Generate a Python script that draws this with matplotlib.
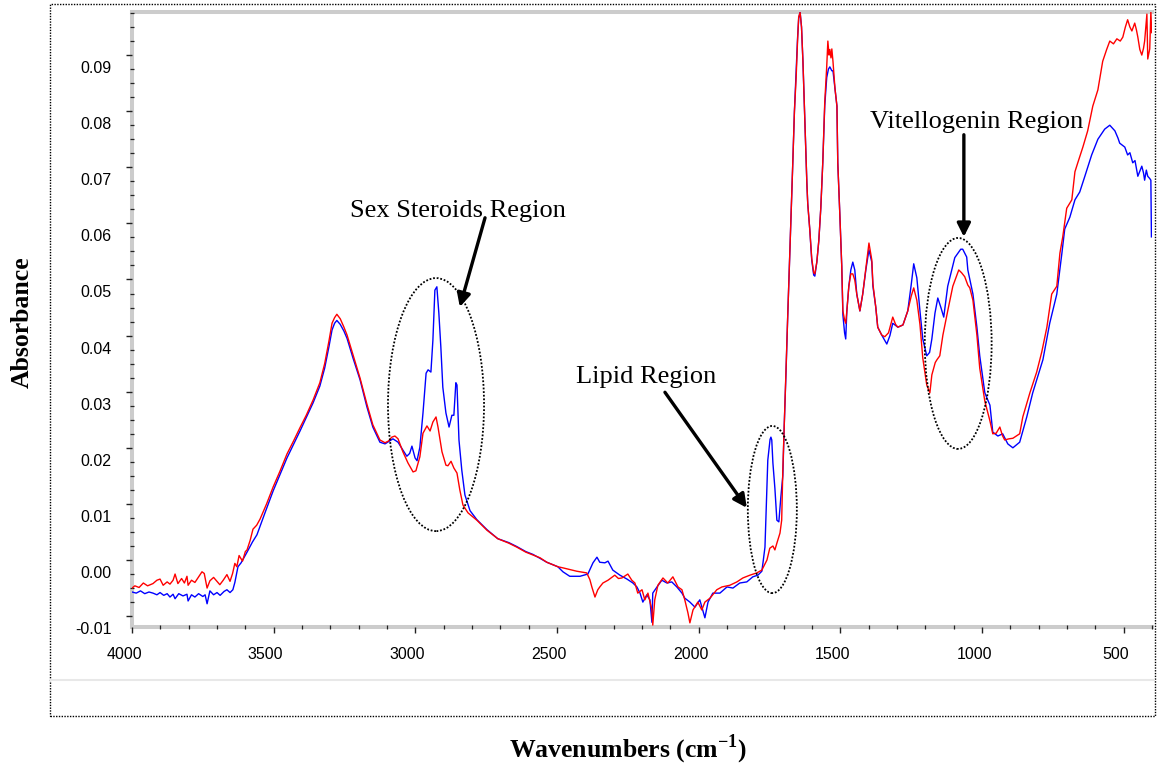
import matplotlib
matplotlib.use("Agg")
import matplotlib.pyplot as plt
import matplotlib.transforms as mtransforms
from matplotlib.patches import Ellipse, Rectangle
from matplotlib.lines import Line2D
from matplotlib.ticker import MultipleLocator

plt.rcParams["mathtext.fontset"] = "custom"
plt.rcParams["mathtext.rm"] = "Liberation Serif"
plt.rcParams["mathtext.bf"] = "Liberation Serif:bold"

# ---------------- data ----------------
wn_red = [4000, 3990, 3975, 3960, 3945, 3926, 3912, 3901, 3890, 3876, 3866, 3855, 3848, 3838,
          3825, 3815, 3806, 3802, 3790, 3778, 3765, 3753, 3745, 3735, 3725, 3712, 3700, 3690,
          3678, 3665, 3654, 3645, 3637, 3630, 3622, 3610, 3600, 3594, 3583, 3573, 3560, 3548,
          3525, 3502, 3478, 3453, 3430, 3407, 3385, 3361, 3337, 3320, 3305, 3294, 3285, 3277,
          3265, 3252, 3241, 3220, 3195, 3171, 3150, 3125, 3107, 3095, 3083, 3072, 3061, 3044,
          3026, 3008, 2998, 2984, 2973, 2959, 2948, 2938, 2927, 2920, 2906, 2892, 2885, 2874,
          2864, 2853, 2843, 2832, 2814, 2783, 2747, 2709, 2670, 2642, 2610, 2585, 2560, 2536,
          2497, 2479, 2430, 2395, 2384, 2377, 2366, 2356, 2349, 2338, 2320, 2296, 2283, 2271,
          2250, 2236, 2225, 2215, 2200, 2190, 2179, 2165, 2162, 2155, 2144, 2126, 2109, 2091,
          2073, 2059, 2049, 2038, 2031, 2020, 2003, 1989, 1978, 1960, 1936, 1918, 1890, 1865,
          1844, 1819, 1795, 1777, 1759, 1749, 1738, 1731, 1724, 1713, 1707, 1703, 1698, 1692,
          1686, 1680, 1674, 1668, 1662, 1656, 1651, 1647, 1642, 1637, 1632, 1625, 1618, 1615,
          1608, 1601, 1594, 1590, 1583, 1576, 1569, 1562, 1555, 1548, 1544, 1540, 1537, 1533,
          1530, 1526, 1519, 1512, 1509, 1502, 1495, 1491, 1485, 1481, 1477, 1470, 1463, 1456,
          1449, 1442, 1431, 1421, 1410, 1399, 1389, 1385, 1375, 1368, 1354, 1343, 1330, 1315,
          1305, 1297, 1279, 1262, 1250, 1241, 1230, 1219, 1209, 1195, 1184, 1177, 1165, 1159,
          1149, 1138, 1121, 1103, 1082, 1072, 1061, 1050, 1043, 1032, 1018, 1008, 990, 972,
          962, 950, 937, 928, 920, 905, 891, 867, 856, 831, 807, 789, 771, 754, 736, 725, 715,
          701, 683, 672, 662, 644, 627, 609, 591, 574, 560, 549, 536, 524, 512, 503, 494, 486,
          478, 471, 461, 455, 450, 443, 436, 430, 426, 418, 415, 408, 404, 401]
abs_red = [-0.0050, -0.0046, -0.0049, -0.0041, -0.0046, -0.0042, -0.0036, -0.0034, -0.0045,
           -0.0039, -0.0043, -0.0036, -0.0025, -0.0042, -0.0033, -0.0041, -0.0029, -0.0045,
           -0.0036, -0.0040, -0.0030, -0.0021, -0.0024, -0.0050, -0.0037, -0.0031, -0.0038,
           -0.0044, -0.0036, -0.0026, -0.0038, -0.0024, -0.0006, -0.0012, 0.0008, -0.0002,
           0.0015, 0.0018, 0.0035, 0.0055, 0.0062, 0.0073, 0.0100, 0.0130, 0.0158, 0.0189,
           0.0212, 0.0236, 0.0258, 0.0285, 0.0316, 0.0350, 0.0390, 0.0422, 0.0432, 0.0438,
           0.0430, 0.0415, 0.0401, 0.0366, 0.0324, 0.0278, 0.0241, 0.0214, 0.0209, 0.0212,
           0.0219, 0.0221, 0.0216, 0.0193, 0.0173, 0.0157, 0.0159, 0.0184, 0.0226, 0.0239,
           0.0230, 0.0246, 0.0255, 0.0237, 0.0193, 0.0169, 0.0168, 0.0176, 0.0164, 0.0155,
           0.0125, 0.0098, 0.0084, 0.0071, 0.0053, 0.0038, 0.0030, 0.0023, 0.0014, 0.0009,
           0.0004, -0.0004, -0.0012, -0.0014, -0.0020, -0.0023, -0.0035, -0.0048, -0.0066,
           -0.0053, -0.0048, -0.0041, -0.0036, -0.0027, -0.0033, -0.0032, -0.0025, -0.0036,
           -0.0041, -0.0059, -0.0053, -0.0071, -0.0059, -0.0089, -0.0116, -0.0071, -0.0045,
           -0.0032, -0.0041, -0.0030, -0.0048, -0.0053, -0.0071, -0.0094, -0.0112, -0.0089,
           -0.0075, -0.0089, -0.0075, -0.0068, -0.0053, -0.0048, -0.0045, -0.0039, -0.0032,
           -0.0027, -0.0023, -0.0018, 0.0000, 0.0021, 0.0025, 0.0018, 0.0030, 0.0048, 0.0071,
           0.0160, 0.0240, 0.0330, 0.0430, 0.0520, 0.0610, 0.0705, 0.0800, 0.0860, 0.0925,
           0.0968, 0.0976, 0.0950, 0.0889, 0.0779, 0.0670, 0.0635, 0.0590, 0.0538, 0.0512,
           0.0510, 0.0531, 0.0569, 0.0627, 0.0708, 0.0816, 0.0880, 0.0925, 0.0900, 0.0910,
           0.0895, 0.0911, 0.0889, 0.0841, 0.0809, 0.0708, 0.0619, 0.0524, 0.0444, 0.0428,
           0.0422, 0.0444, 0.0488, 0.0510, 0.0510, 0.0499, 0.0474, 0.0444, 0.0474, 0.0520,
           0.0565, 0.0535, 0.0492, 0.0451, 0.0415, 0.0401, 0.0398, 0.0405, 0.0433, 0.0420,
           0.0415, 0.0419, 0.0444, 0.0470, 0.0485, 0.0463, 0.0420, 0.0360, 0.0312, 0.0298,
           0.0330, 0.0352, 0.0357, 0.0364, 0.0401, 0.0444, 0.0488, 0.0517, 0.0512, 0.0505,
           0.0490, 0.0485, 0.0463, 0.0401, 0.0342, 0.0283, 0.0248, 0.0225, 0.0226, 0.0237,
           0.0222, 0.0214, 0.0216, 0.0217, 0.0225, 0.0255, 0.0298, 0.0335, 0.0371, 0.0415,
           0.0474, 0.0488, 0.0547, 0.0576, 0.0627, 0.0642, 0.0692, 0.0708, 0.0736, 0.0765,
           0.0809, 0.0838, 0.0889, 0.0910, 0.0925, 0.0920, 0.0929, 0.0925, 0.0932, 0.0950,
           0.0963, 0.0950, 0.0943, 0.0957, 0.0945, 0.0932, 0.0910, 0.0900, 0.0912, 0.0925,
           0.0973, 0.0893, 0.0911, 0.0977, 0.0940]

wn_blue = [4000, 3985, 3970, 3955, 3940, 3926, 3912, 3901, 3888, 3876, 3866, 3855, 3848, 3835,
           3820, 3806, 3802, 3790, 3778, 3765, 3750, 3742, 3735, 3725, 3712, 3700, 3689, 3675,
           3665, 3654, 3644, 3637, 3626, 3615, 3594, 3575, 3559, 3530, 3502, 3478, 3453, 3430,
           3407, 3385, 3361, 3337, 3320, 3305, 3294, 3285, 3277, 3265, 3252, 3241, 3220, 3195,
           3171, 3150, 3125, 3107, 3079, 3061, 3044, 3030, 3020, 3012, 3001, 2994, 2984, 2973,
           2962, 2955, 2945, 2938, 2931, 2924, 2917, 2910, 2903, 2892, 2881, 2871, 2864, 2857,
           2853, 2846, 2836, 2825, 2807, 2783, 2747, 2709, 2670, 2642, 2610, 2585, 2560, 2536,
           2497, 2479, 2455, 2419, 2391, 2373, 2359, 2349, 2331, 2320, 2303, 2278, 2253, 2232,
           2218, 2207, 2197, 2183, 2172, 2165, 2162, 2147, 2130, 2112, 2095, 2077, 2059, 2049,
           2031, 2013, 1996, 1978, 1967, 1950, 1925, 1900, 1879, 1855, 1830, 1809, 1791, 1777,
           1773, 1766, 1759, 1756, 1748, 1745, 1742, 1738, 1731, 1724, 1717, 1710, 1703, 1698,
           1692, 1686, 1680, 1674, 1668, 1662, 1656, 1651, 1647, 1642, 1637, 1632, 1625, 1618,
           1615, 1608, 1601, 1594, 1590, 1583, 1576, 1569, 1562, 1555, 1548, 1542, 1537, 1530,
           1526, 1519, 1512, 1509, 1502, 1495, 1491, 1485, 1481, 1477, 1470, 1463, 1456, 1449,
           1442, 1431, 1421, 1410, 1399, 1389, 1385, 1375, 1368, 1354, 1336, 1325, 1315, 1297,
           1279, 1262, 1250, 1241, 1230, 1219, 1209, 1195, 1185, 1177, 1166, 1156, 1145, 1135,
           1121, 1096, 1075, 1068, 1054, 1050, 1032, 1018, 1008, 990, 972, 962, 944, 927, 909,
           891, 867, 842, 821, 785, 761, 736, 718, 708, 690, 672, 655, 637, 613, 591, 567, 549,
           531, 520, 514, 496, 486, 478, 468, 460, 450, 436, 430, 426, 420, 415, 408, 404, 402]
abs_blue = [-0.0057, -0.0059, -0.0055, -0.0060, -0.0057, -0.0059, -0.0062, -0.0058, -0.0063,
            -0.0060, -0.0066, -0.0061, -0.0069, -0.0060, -0.0064, -0.0061, -0.0073, -0.0062,
            -0.0066, -0.0060, -0.0065, -0.0062, -0.0078, -0.0055, -0.0062, -0.0058, -0.0063,
            -0.0056, -0.0053, -0.0058, -0.0053, -0.0040, -0.0012, -0.0005, 0.0014, 0.0032,
            0.0045, 0.0085, 0.0123, 0.0152, 0.0182, 0.0206, 0.0230, 0.0254, 0.0280, 0.0310,
            0.0342, 0.0380, 0.0410, 0.0422, 0.0427, 0.0420, 0.0408, 0.0395, 0.0360, 0.0321,
            0.0273, 0.0237, 0.0210, 0.0207, 0.0216, 0.0210, 0.0196, 0.0185, 0.0190, 0.0203,
            0.0182, 0.0177, 0.0201, 0.0262, 0.0333, 0.0339, 0.0335, 0.0392, 0.0481, 0.0487,
            0.0440, 0.0380, 0.0308, 0.0262, 0.0237, 0.0258, 0.0258, 0.0316, 0.0312, 0.0214,
            0.0160, 0.0116, 0.0088, 0.0072, 0.0054, 0.0038, 0.0031, 0.0024, 0.0015, 0.0010,
            0.0003, -0.0004, -0.0012, -0.0021, -0.0029, -0.0029, -0.0025, -0.0005, 0.0005,
            -0.0004, -0.0005, -0.0002, -0.0018, -0.0027, -0.0034, -0.0041, -0.0048, -0.0059,
            -0.0075, -0.0062, -0.0071, -0.0111, -0.0059, -0.0048, -0.0036, -0.0041, -0.0039,
            -0.0048, -0.0059, -0.0068, -0.0075, -0.0084, -0.0071, -0.0103, -0.0075, -0.0059,
            -0.0059, -0.0048, -0.0050, -0.0041, -0.0039, -0.0030, -0.0027, -0.0020, -0.0005,
            0.0023, 0.0130, 0.0178, 0.0215, 0.0219, 0.0214, 0.0173, 0.0128, 0.0071, 0.0068,
            0.0112, 0.0150, 0.0240, 0.0330, 0.0430, 0.0520, 0.0610, 0.0705, 0.0800, 0.0870,
            0.0930, 0.0965, 0.0977, 0.0950, 0.0889, 0.0779, 0.0670, 0.0635, 0.0590, 0.0535,
            0.0508, 0.0506, 0.0531, 0.0569, 0.0627, 0.0708, 0.0810, 0.0860, 0.0875, 0.0879,
            0.0872, 0.0872, 0.0841, 0.0809, 0.0708, 0.0619, 0.0524, 0.0437, 0.0405, 0.0394,
            0.0444, 0.0488, 0.0517, 0.0531, 0.0517, 0.0474, 0.0444, 0.0474, 0.0517, 0.0553,
            0.0531, 0.0488, 0.0451, 0.0415, 0.0401, 0.0385, 0.0400, 0.0422, 0.0415, 0.0419,
            0.0444, 0.0490, 0.0528, 0.0503, 0.0444, 0.0394, 0.0364, 0.0370, 0.0394, 0.0440,
            0.0467, 0.0450, 0.0433, 0.0488, 0.0539, 0.0554, 0.0554, 0.0540, 0.0517, 0.0474,
            0.0415, 0.0364, 0.0298, 0.0276, 0.0228, 0.0221, 0.0225, 0.0207, 0.0200, 0.0210,
            0.0255, 0.0298, 0.0357, 0.0422, 0.0474, 0.0547, 0.0590, 0.0611, 0.0642, 0.0656,
            0.0684, 0.0722, 0.0750, 0.0768, 0.0775, 0.0765, 0.0752, 0.0743, 0.0736, 0.0722,
            0.0726, 0.0708, 0.0712, 0.0684, 0.0702, 0.0690, 0.0677, 0.0695, 0.0684, 0.0680,
            0.0677, 0.0576]

x_ticks = [4000, 3500, 3000, 2500, 2000, 1500, 1000, 500]
x_tick_labels = ["4000", "3500", "3000", "2500", "2000", "1500", "1000", "500"]
y_ticks = [-0.01, 0.00, 0.01, 0.02, 0.03, 0.04, 0.05, 0.06, 0.07, 0.08, 0.09]
y_tick_labels = ["-0.01", "0.00", "0.01", "0.02", "0.03", "0.04", "0.05", "0.06", "0.07", "0.08", "0.09"]

# ---------------- figure ----------------
W, H = 1157, 769
fig = plt.figure(figsize=(W / 100, H / 100), dpi=100)
ax = fig.add_axes([132 / W, 142 / H, 1020 / W, 615 / H])

ax.plot(wn_blue, abs_blue, color="#0000ff", lw=1.0, zorder=3)
ax.plot(wn_red, abs_red, color="#ff0000", lw=1.0, zorder=4)

ax.set_xlim(4000, 400)
ax.set_ylim(-0.01194, 0.09768)

ax.set_xticks(x_ticks)
ax.set_xticklabels(x_tick_labels)
ax.set_yticks(y_ticks)
ax.set_yticklabels(y_tick_labels)
ax.xaxis.set_minor_locator(MultipleLocator(100))
ax.yaxis.set_minor_locator(MultipleLocator(0.0025))

for side in ["left", "bottom", "top"]:
    ax.spines[side].set_color("#cccccc")
    ax.spines[side].set_linewidth(2.9)
    ax.spines[side].set_zorder(1)
ax.spines["right"].set_visible(False)

ax.tick_params(axis="both", which="major", direction="out", length=4.5, width=1.0,
               color="#222222", labelsize=11.5, pad=10)
ax.tick_params(axis="both", which="minor", direction="inout", length=3.5, width=0.9,
               color="#222222")
ax.tick_params(top=False, right=False)

for lab in ax.get_xticklabels() + ax.get_yticklabels():
    lab.set_fontfamily("Liberation Sans")

# labels sit slightly offset from their ticks, as in the reference
off_y = mtransforms.ScaledTranslation(0, -12 / 100, fig.dpi_scale_trans)
off_x = mtransforms.ScaledTranslation(-8 / 100, 0, fig.dpi_scale_trans)
for t in ax.yaxis.get_major_ticks():
    t.label1.set_transform(t.label1.get_transform() + off_y)
for t in ax.xaxis.get_major_ticks():
    t.label1.set_transform(t.label1.get_transform() + off_x)

# ---------------- annotations ----------------
ell_kw = dict(fill=False, edgecolor="black", lw=1.3, linestyle=(0, (1, 1)), zorder=5)
ax.add_patch(Ellipse((2927, 0.0277), 339, 0.0451, **ell_kw))
ax.add_patch(Ellipse((1740, 0.0090), 173, 0.0298, **ell_kw))
ax.add_patch(Ellipse((1084, 0.0386), 236, 0.0376, **ell_kw))

txt_kw = dict(fontsize=19, family="Liberation Serif", ha="center", va="baseline", zorder=6)
ax.text(2850, 0.0611, "Sex Steroids Region", **txt_kw)
ax.text(2186, 0.0316, "Lipid Region", **txt_kw)
ax.text(1018, 0.0770, "Vitellogenin Region", **txt_kw)

arr = dict(arrowstyle="-|>", color="black", lw=2.4, mutation_scale=20, shrinkA=0, shrinkB=0)
ax.annotate("", xy=(2843, 0.0451), xytext=(2754, 0.0610), arrowprops=arr, zorder=6)
ax.annotate("", xy=(1830, 0.0093), xytext=(2119, 0.0299), arrowprops=arr, zorder=6)
ax.annotate("", xy=(1064, 0.0576), xytext=(1064, 0.0758), arrowprops=arr, zorder=6)

# ---------------- frame decorations ----------------
fig.add_artist(Rectangle((50 / W, (H - 716) / H), (1155 - 50) / W, (716 - 4) / H,
                         transform=fig.transFigure, fill=False, edgecolor="black",
                         lw=1.0, linestyle=(0, (1, 1))))
fig.add_artist(Line2D([51 / W, 1154 / W], [(H - 680) / H, (H - 680) / H],
                      transform=fig.transFigure, color="#e8e8e8", lw=1.5))

fig.text(22 / W, (H - 322) / H, "Absorbance", rotation=90, ha="center", va="center",
         fontsize=18.5, fontweight="bold", family="Liberation Serif")
fig.text(628 / W, (H - 757) / H, r"Wavenumbers (cm$^{\mathbf{-1}}$)", ha="center",
         va="baseline", fontsize=18.5, fontweight="bold", family="Liberation Serif")

fig.savefig("out.png", dpi=100)
